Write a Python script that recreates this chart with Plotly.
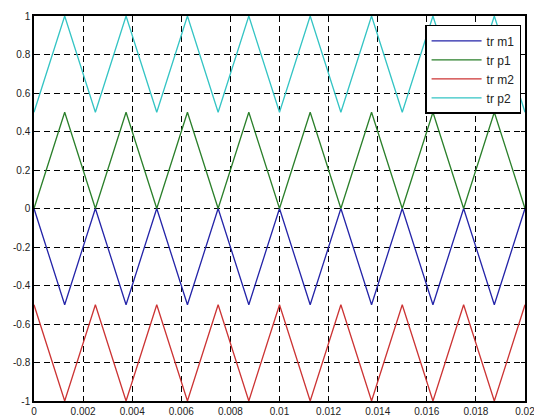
import plotly.graph_objects as go

t = [0.0, 0.00125, 0.0025, 0.00375, 0.005, 0.00625, 0.0075, 0.00875, 0.01,
     0.01125, 0.0125, 0.01375, 0.015, 0.01625, 0.0175, 0.01875, 0.02]
trm1 = [0, -0.5, 0, -0.5, 0, -0.5, 0, -0.5, 0, -0.5, 0, -0.5, 0, -0.5, 0, -0.5, 0]
trp1 = [0, 0.5, 0, 0.5, 0, 0.5, 0, 0.5, 0, 0.5, 0, 0.5, 0, 0.5, 0, 0.5, 0]
trm2 = [-0.5, -1, -0.5, -1, -0.5, -1, -0.5, -1, -0.5, -1, -0.5, -1, -0.5, -1, -0.5, -1, -0.5]
trp2 = [0.5, 1, 0.5, 1, 0.5, 1, 0.5, 1, 0.5, 1, 0.5, 1, 0.5, 1, 0.5, 1, 0.5]

names = ["tr m1", "tr p1", "tr m2", "tr p2"]
colors = ["#2323a8", "#2a7f2a", "#cc3333", "#33c4c4"]

x_ticks = [0, 0.002, 0.004, 0.006, 0.008, 0.01, 0.012, 0.014, 0.016, 0.018, 0.02]
x_labels = ["0", "0.002", "0.004", "0.006", "0.008", "0.01", "0.012", "0.014", "0.016", "0.018", "0.02"]
y_ticks = [-1, -0.8, -0.6, -0.4, -0.2, 0, 0.2, 0.4, 0.6, 0.8, 1]
y_labels = ["-1", "-0.8", "-0.6", "-0.4", "-0.2", "0", "0.2", "0.4", "0.6", "0.8", "1"]

fig = go.Figure()
for name, ys, c in zip(names, [trm1, trp1, trm2, trp2], colors):
    fig.add_trace(go.Scatter(x=t, y=ys, mode="lines", name=name,
                             line=dict(color=c, width=1.3)))

axis_common = dict(
    showline=True, linecolor="black", linewidth=1.5, mirror="ticks",
    ticks="inside", ticklen=4, tickcolor="black",
    showgrid=True, gridcolor="black", griddash="6px,4px", gridwidth=1.3,
    zeroline=False, automargin=False,
    tickfont=dict(family="Liberation Sans, Arial", size=10, color="#222"),
)

fig.update_xaxes(range=[0, 0.02], tickvals=x_ticks, ticktext=x_labels, **axis_common)
fig.update_yaxes(range=[-1, 1], tickvals=y_ticks, ticktext=y_labels, **axis_common)

fig.update_layout(
    width=530, height=411,
    margin=dict(l=26, r=13, t=8, b=18, pad=0),
    paper_bgcolor="white", plot_bgcolor="white",
    showlegend=True,
    legend=dict(
        x=0.992, y=0.977, xanchor="right", yanchor="top",
        bgcolor="white", bordercolor="black", borderwidth=1.5,
        font=dict(family="Liberation Sans, Arial", size=12, color="#222"),
        tracegroupgap=1, itemwidth=50,
    ),
)

fig.write_html("out.html")
